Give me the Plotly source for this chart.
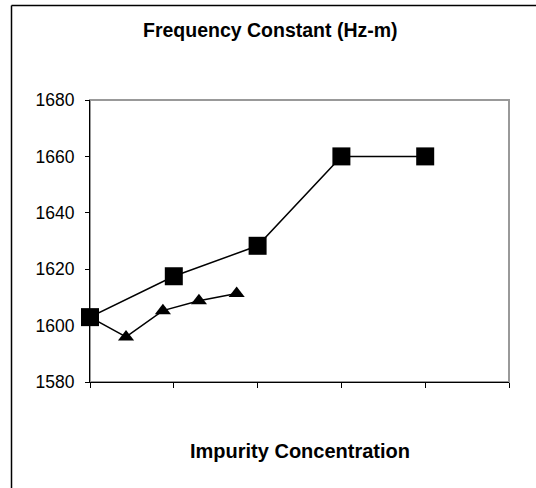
import plotly.graph_objects as go

# Data
square_x = [0, 1, 2, 3, 4]
square_y = [1603, 1617.5, 1628.3, 1660, 1660]
triangle_x = [0, 0.43, 0.87, 1.3, 1.75]
triangle_y = [1603, 1596, 1605.3, 1608.8, 1611.4]
y_ticks = [1580, 1600, 1620, 1640, 1660, 1680]
x_ticks = [0, 1, 2, 3, 4, 5]

title_text = "Frequency Constant (Hz-m)"
x_title_text = "Impurity Concentration"

FONT = "Liberation Sans, Arial, sans-serif"

fig = go.Figure()

fig.add_trace(go.Scatter(
    x=triangle_x, y=triangle_y, mode="lines+markers",
    line=dict(color="black", width=1.5),
    marker=dict(symbol="triangle-up", size=14, color="black"),
    cliponaxis=False, showlegend=False,
))
fig.add_trace(go.Scatter(
    x=square_x, y=square_y, mode="lines+markers",
    line=dict(color="black", width=1.5),
    marker=dict(symbol="square", size=18, color="black"),
    cliponaxis=False, showlegend=False,
))

L, R, T, B = 90, 27, 100, 106
W, H = 536, 488
pw, ph = W - L - R, H - T - B

def px_to_paper_x(px):
    return (px - L) / pw

def px_to_paper_y(py):
    return (H - B - py) / ph

fig.update_layout(
    width=W, height=H,
    margin=dict(l=L, r=R, t=T, b=B),
    paper_bgcolor="white", plot_bgcolor="white",
    font=dict(family=FONT, color="black"),
    xaxis=dict(
        range=[0, 5], tickvals=x_ticks, showticklabels=False,
        ticks="outside", ticklen=5, tickcolor="black", tickwidth=1,
        showline=True, linecolor="black", linewidth=1,
        showgrid=False, zeroline=False,
    ),
    yaxis=dict(
        range=[1580, 1680], tickvals=y_ticks,
        ticks="outside", ticklen=4, tickcolor="black", tickwidth=1,
        showline=True, linecolor="black", linewidth=1,
        showgrid=False, zeroline=False,
        tickfont=dict(family=FONT, size=17.5, color="black"),
        ticklabelstandoff=7,
    ),
    shapes=[
        # plot area border (gray top/right)
        dict(type="rect", xref="paper", yref="paper", x0=0, x1=1, y0=0, y1=1,
             line=dict(color="#999999", width=2), fillcolor="rgba(0,0,0,0)", layer="below"),
        # outer chart border: only left and top edges are visible in the image
        dict(type="line", xref="paper", yref="paper",
             x0=px_to_paper_x(11.5), x1=px_to_paper_x(11.5),
             y0=px_to_paper_y(700), y1=px_to_paper_y(5.5),
             line=dict(color="black", width=1.5)),
        dict(type="line", xref="paper", yref="paper",
             x0=px_to_paper_x(11.5), x1=px_to_paper_x(700),
             y0=px_to_paper_y(5.5), y1=px_to_paper_y(5.5),
             line=dict(color="black", width=1.5)),
    ],
    annotations=[
        dict(text=title_text, xref="paper", yref="paper",
             x=px_to_paper_x(270), y=px_to_paper_y(30),
             xanchor="center", yanchor="middle", showarrow=False,
             font=dict(family=FONT, size=19.5, color="black", weight="bold")),
        dict(text=x_title_text, xref="paper", yref="paper",
             x=0.5, y=px_to_paper_y(451),
             xanchor="center", yanchor="middle", showarrow=False,
             font=dict(family=FONT, size=20, color="black", weight="bold")),
    ],
)

fig.write_html(
    "out.html",
    config={"displayModeBar": False, "staticPlot": True},
    post_script=(
        "document.body.style.margin='0';"
        "document.body.style.overflow='hidden';"
        "document.documentElement.style.overflow='hidden';"
    ),
)
